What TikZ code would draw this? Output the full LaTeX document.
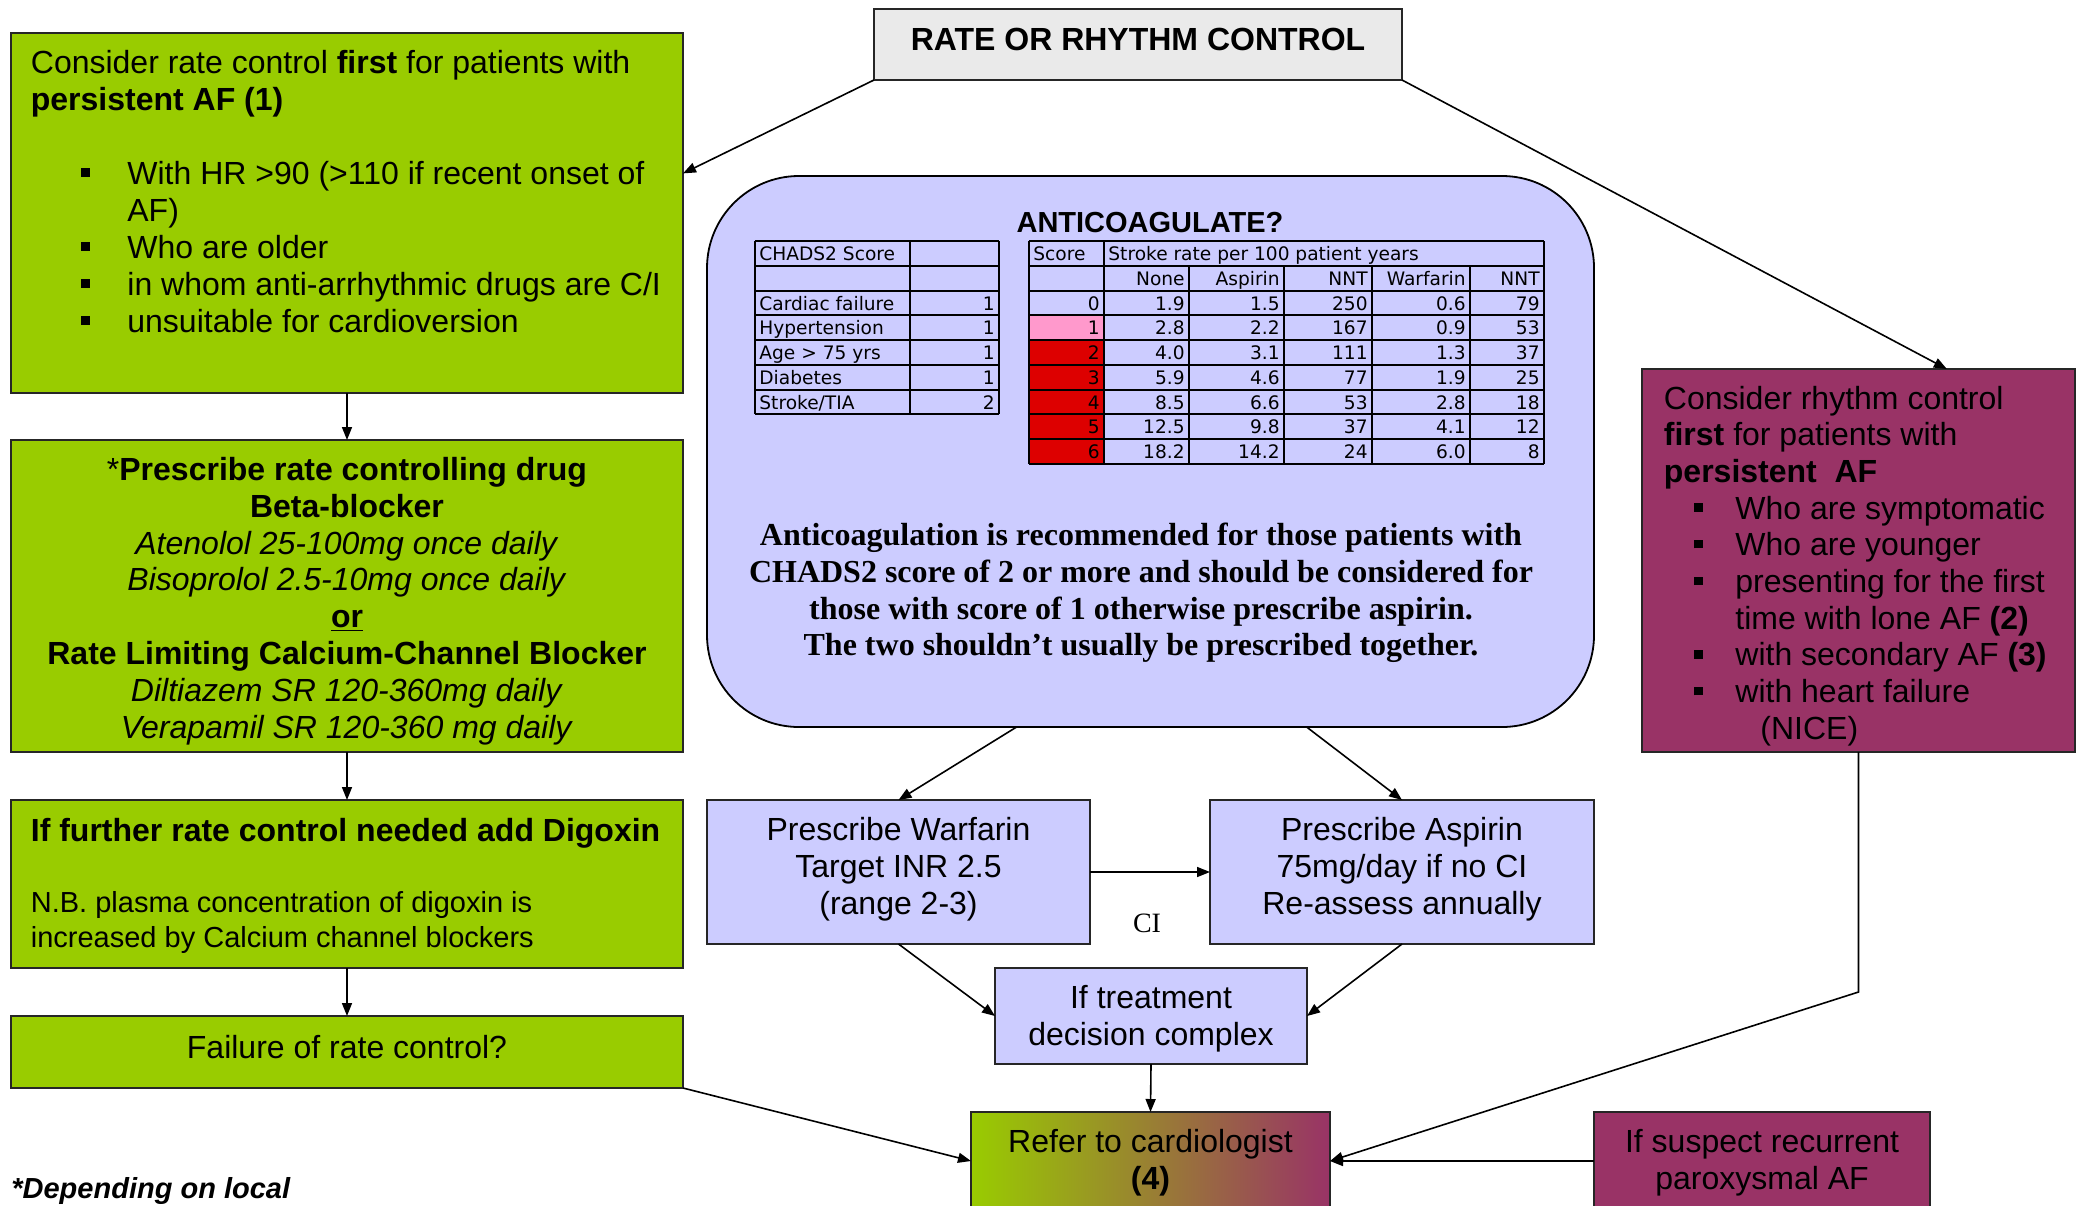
\documentclass[tikz,border=0pt]{standalone}
\usepackage{fontspec}
\setmainfont{Liberation Sans}
\newfontfamily\serifface{Liberation Serif}
\newfontfamily\tabface{DejaVu Sans}
\usetikzlibrary{arrows.meta,calc}
\definecolor{rgreen}{HTML}{99CC00}
\definecolor{rpurple}{HTML}{993366}
\definecolor{lav}{HTML}{CCCCFF}
\definecolor{hdrgray}{HTML}{EAEAEA}
\definecolor{cellred}{HTML}{DD0000}
\definecolor{cellpink}{HTML}{FF99CC}
\newcommand\sqbul{\rule[0.23em]{0.26em}{0.26em}}
\newcommand\fsixteen{\fontsize{16}{18.4}\selectfont}
\newcommand\fsmall{\fontsize{14.5}{17}\selectfont}
\begin{document}
\begin{tikzpicture}[x=0.5pt,y=-0.5pt,
  box/.style={draw=black!85, line width=0.9pt, inner sep=0pt, outer sep=0pt},
  txt/.style={inner sep=0pt, font=\fsixteen},
  conn/.style={line width=0.8pt, -{Triangle[length=6.5pt,width=5pt]}},
  tabline/.style={line width=1pt, black},
  tabtxt/.style={inner sep=0pt, font=\tabface\fontsize{9.3}{11}\selectfont}]
\fill[white] (0,0) rectangle (2080,1205);
\useasboundingbox (0,0) rectangle (2080,1205);

% top box
\node[box, fill=hdrgray, minimum width=264pt, minimum height=35.5pt] (top) at (1138,44.5) {};
\node[txt, font=\fsixteen\bfseries] (toptxt) at (1138,39.5) {RATE OR RHYTHM CONTROL};

% green box 1
\node[box, fill=rgreen, minimum width=336pt, minimum height=180pt] (g1) at (347,213) {};
\node[txt, anchor=base west] (g1a) at (30.5,73) {Consider rate control \textbf{first} for patients with};
\node[txt, anchor=base west] (g1b) at (30.5,110) {\textbf{persistent AF (1)}};
\node[txt, anchor=base west] (g1s1) at (81,184) {\sqbul};
\node[txt, anchor=base west] (g1t1) at (127,184) {With HR >90 (>110 if recent onset of};
\node[txt, anchor=base west] (g1t1b) at (127,221) {AF)};
\node[txt, anchor=base west] (g1s2) at (81,258) {\sqbul};
\node[txt, anchor=base west] (g1t2) at (127,258) {Who are older};
\node[txt, anchor=base west] (g1s3) at (81,295) {\sqbul};
\node[txt, anchor=base west] (g1t3) at (127,295) {in whom anti-arrhythmic drugs are C/I};
\node[txt, anchor=base west] (g1s4) at (81,332) {\sqbul};
\node[txt, anchor=base west] (g1t4) at (127,332) {unsuitable for cardioversion};

% green box 2
\node[box, fill=rgreen, minimum width=336pt, minimum height=156pt] (g2) at (347,596) {};
\node[txt, align=center] (g2t) at (347,601) {*\textbf{Prescribe rate controlling drug}\\
  \textbf{Beta-blocker}\\
  \textit{Atenolol 25-100mg once daily}\\
  \textit{Bisoprolol 2.5-10mg once daily}\\
  \underline{\textbf{or}}\\
  \textbf{Rate Limiting Calcium-Channel Blocker}\\
  \textit{Diltiazem SR 120-360mg daily}\\
  \textit{Verapamil SR 120-360 mg daily}};

% green box 3
\node[box, fill=rgreen, minimum width=336pt, minimum height=84pt] (g3) at (347,884) {};
\node[txt, anchor=base west] (g3a) at (30.5,841) {\textbf{If further rate control needed add Digoxin}};
\node[txt, anchor=base west, font=\fsmall] (g3b) at (30.5,912) {N.B. plasma concentration of digoxin is};
\node[txt, anchor=base west, font=\fsmall] (g3c) at (30.5,947) {increased by Calcium channel blockers};

% green box 4
\node[box, fill=rgreen, minimum width=336pt, minimum height=36pt] (g4) at (347,1052) {};
\node[txt] (g4t) at (347,1047) {Failure of rate control?};

% footnote
\node[txt, anchor=base west, font=\fsmall\bfseries\itshape] (foot) at (11,1198) {*Depending on local};

% anticoagulate box
\node[box, draw=black, fill=lav, rounded corners=46pt, minimum width=443.5pt, minimum height=275.5pt] (ac) at (1150.5,451.5) {};
\node[txt, font=\fsmall\bfseries] (actitle) at (1150,223) {ANTICOAGULATE?};
\node[txt, align=center, font=\serifface\bfseries\fontsize{16}{18.35}\selectfont] (acbody) at (1141,593)
  {Anticoagulation is recommended for those patients with\\
   CHADS2 score of 2 or more and should be considered for\\
   those with score of 1 otherwise prescribe aspirin.\\
   The two shouldn’t usually be prescribed together.};

% CHADS2 table
\foreach \i in {0,...,7} \draw[tabline] (755,{241+\i*24.75}) -- (999,{241+\i*24.75});
\foreach \xx in {755,910,999} \draw[tabline] (\xx,241) -- (\xx,{241+7*24.75});
\node[tabtxt, anchor=base west] (ch0) at (759,{241+0*24.75+19.5}) {CHADS2 Score};
\node[tabtxt, anchor=base west] (ch2) at (759,{241+2*24.75+19.5}) {Cardiac failure};
\node[tabtxt, anchor=base west] (ch3) at (759,{241+3*24.75+19.5}) {Hypertension};
\node[tabtxt, anchor=base west] (ch4) at (759,{241+4*24.75+19.5}) {Age > 75 yrs};
\node[tabtxt, anchor=base west] (ch5) at (759,{241+5*24.75+19.5}) {Diabetes};
\node[tabtxt, anchor=base west] (ch6) at (759,{241+6*24.75+19.5}) {Stroke/TIA};
\node[tabtxt, anchor=base east] (cv2) at (995,{241+2*24.75+19.5}) {1};
\node[tabtxt, anchor=base east] (cv3) at (995,{241+3*24.75+19.5}) {1};
\node[tabtxt, anchor=base east] (cv4) at (995,{241+4*24.75+19.5}) {1};
\node[tabtxt, anchor=base east] (cv5) at (995,{241+5*24.75+19.5}) {1};
\node[tabtxt, anchor=base east] (cv6) at (995,{241+6*24.75+19.5}) {2};

% stroke rate table
\fill[cellpink] (1029,{241+3*24.75}) rectangle (1104,{241+4*24.75});
\fill[cellred] (1029,{241+4*24.75}) rectangle (1104,{241+9*24.75});
\foreach \i in {0,...,9} \draw[tabline] (1029,{241+\i*24.75}) -- (1544,{241+\i*24.75});
\foreach \xx in {1029,1104,1544} \draw[tabline] (\xx,241) -- (\xx,{241+9*24.75});
\foreach \xx in {1189,1284,1372,1470} \draw[tabline] (\xx,{241+24.75}) -- (\xx,{241+9*24.75});
\node[tabtxt, anchor=base west] (sh0) at (1033,{241+19.5}) {Score};
\node[tabtxt, anchor=base west] (sh1) at (1108,{241+19.5}) {Stroke rate per 100 patient years};
\foreach \xx/\tt [count=\k] in {1185/None,1280/Aspirin,1368/NNT,1466/Warfarin,1540/NNT}
  \node[tabtxt, anchor=base east] (hd\k) at (\xx,{241+24.75+19.5}) {\tt};
\foreach \s/\a/\b/\c/\d/\e [count=\r from 2] in
  {0/1.9/1.5/250/0.6/79, 1/2.8/2.2/167/0.9/53, 2/4.0/3.1/111/1.3/37,
   3/5.9/4.6/77/1.9/25, 4/8.5/6.6/53/2.8/18, 5/12.5/9.8/37/4.1/12, 6/18.2/14.2/24/6.0/8}
{
  \node[tabtxt, anchor=base east] (sa\r) at (1100,{241+\r*24.75+19.5}) {\s};
  \node[tabtxt, anchor=base east] (sb\r) at (1185,{241+\r*24.75+19.5}) {\a};
  \node[tabtxt, anchor=base east] (sc\r) at (1280,{241+\r*24.75+19.5}) {\b};
  \node[tabtxt, anchor=base east] (sd\r) at (1368,{241+\r*24.75+19.5}) {\c};
  \node[tabtxt, anchor=base east] (se\r) at (1466,{241+\r*24.75+19.5}) {\d};
  \node[tabtxt, anchor=base east] (sf\r) at (1540,{241+\r*24.75+19.5}) {\e};
}

% purple box
\node[box, fill=rpurple, minimum width=216.5pt, minimum height=191.5pt] (pur) at (1858.5,560.5) {};
\node[txt, anchor=base west] (p0) at (1663.5,409) {Consider rhythm control};
\node[txt, anchor=base west] (p1) at (1663.5,445.7) {\textbf{first} for patients with};
\node[txt, anchor=base west] (p2) at (1663.5,482.4) {\textbf{persistent\ \ AF}};
\node[txt, anchor=base west] (ps3) at (1694,519.1) {\sqbul};
\node[txt, anchor=base west] (p3) at (1735,519.1) {Who are symptomatic};
\node[txt, anchor=base west] (ps4) at (1694,555.8) {\sqbul};
\node[txt, anchor=base west] (p4) at (1735,555.8) {Who are younger};
\node[txt, anchor=base west] (ps5) at (1694,592.5) {\sqbul};
\node[txt, anchor=base west] (p5) at (1735,592.5) {presenting for the first};
\node[txt, anchor=base west] (p6) at (1735,629.2) {time with lone AF \textbf{(2)}};
\node[txt, anchor=base west] (ps7) at (1694,665.9) {\sqbul};
\node[txt, anchor=base west] (p7) at (1735,665.9) {with secondary AF \textbf{(3)}};
\node[txt, anchor=base west] (ps8) at (1694,702.6) {\sqbul};
\node[txt, anchor=base west] (p8) at (1735,702.6) {with heart failure};
\node[txt, anchor=base west] (p9) at (1760,739.3) {(NICE)};

% lower lavender boxes
\node[box, fill=lav, minimum width=191.5pt, minimum height=72pt] (war) at (898.5,872) {};
\node[txt, align=center] (wart) at (898.5,869) {Prescribe Warfarin\\Target INR 2.5\\(range 2-3)};
\node[box, fill=lav, minimum width=192pt, minimum height=72pt] (asp) at (1402,872) {};
\node[txt, align=center] (aspt) at (1402,869) {Prescribe Aspirin\\75mg/day if no CI\\Re-assess annually};
\node[txt, font=\serifface\fontsize{14}{16}\selectfont] (ci) at (1147,923) {CI};
\node[box, fill=lav, minimum width=156pt, minimum height=48pt] (treat) at (1151,1016) {};
\node[txt, align=center] (treatt) at (1151,1019) {If treatment\\decision complex};

% bottom boxes
\node[box, left color=rgreen, right color=rpurple, minimum width=179.5pt, minimum height=49pt] (ref) at (1150.5,1161) {};
\node[txt, align=center] (reft) at (1150.5,1163) {Refer to cardiologist\\\textbf{(4)}};
\node[box, fill=rpurple, minimum width=168pt, minimum height=49pt] (sus) at (1762,1161) {};
\node[txt, align=center] (sust) at (1762,1163) {If suspect recurrent\\paroxysmal AF};

% connectors
\draw[conn] (top.south west) -- ($(g1.north east)!0.39!(g1.south east)$);
\draw[conn] (top.south east) -- ($(pur.north west)!0.704!(pur.north east)$);
\draw[conn] (g1.south) -- (g2.north);
\draw[conn] (g2.south) -- (g3.north);
\draw[conn] (g3.south) -- (g4.north);
\draw[conn] (g4.south east) -- (ref.west);
\draw[conn] ($(ac.south west)!0.349!(ac.south east)$) -- (war.north);
\draw[conn] ($(ac.south west)!0.676!(ac.south east)$) -- (asp.north);
\draw[conn] (war.east) -- (asp.west);
\draw[conn] (war.south) -- (treat.west);
\draw[conn] (asp.south) -- (treat.east);
\draw[conn] (treat.south) -- (ref.north);
\draw[conn] (pur.south) -- ++(0,240) coordinate (pbend) -- (ref.east);
\draw[conn] (sus.west) -- (ref.east);
\end{tikzpicture}
\end{document}
